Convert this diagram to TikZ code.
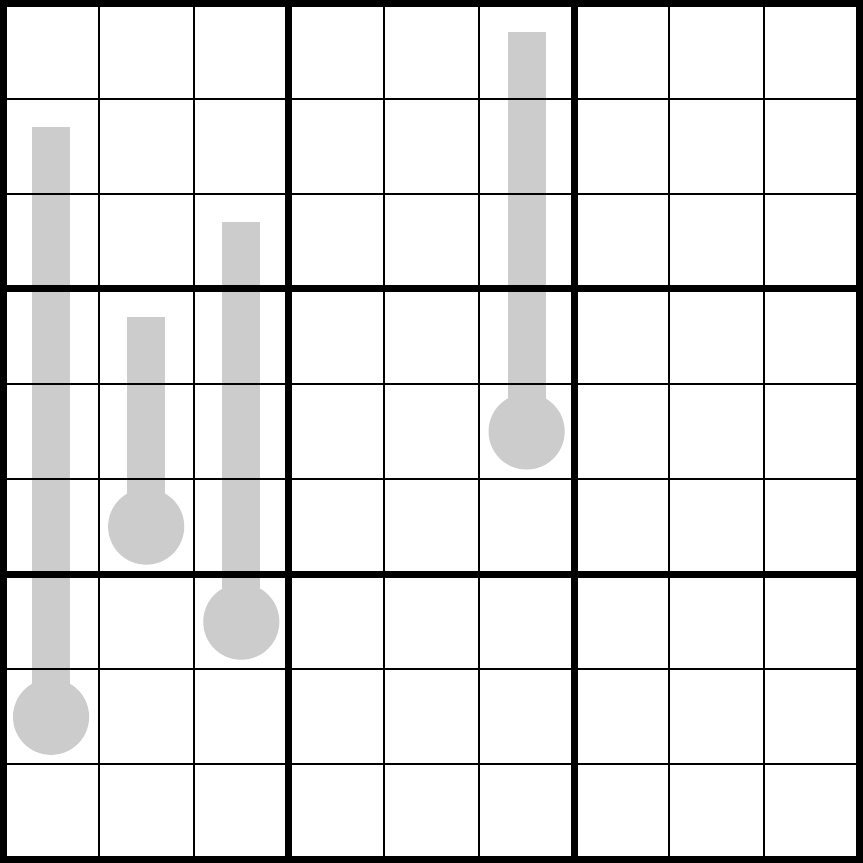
\documentclass[tikz,border=0pt]{standalone}
\definecolor{thermo}{HTML}{CCCCCC}
\tikzset{
  thin grid/.style={line width=0.6pt, black},
  thick grid/.style={line width=2.1pt, black, line cap=rect},
  thermo fill/.style={fill=thermo, draw=none}
}
% \thermometer{col}{bulb row}{top row}  (rows counted from top, 1-based)
\newcommand{\thermometer}[3]{%
  \fill[thermo fill] ({#1-0.5-0.2},{9-#3+0.5+0.2}) rectangle ({#1-0.5+0.2},{9-#2+0.5});
  \fill[thermo fill] ({#1-0.5},{9-#2+0.5}) circle (0.4);
}
\begin{document}
\begin{tikzpicture}[x=1cm,y=1cm]
\useasboundingbox (-0.0368,-0.0368) rectangle (9.0368,9.0368);
\fill[white] (-0.0368,-0.0368) rectangle (9.0368,9.0368);
% thermometers
\thermometer{1}{8}{2}
\thermometer{2}{6}{4}
\thermometer{3}{7}{3}
\thermometer{6}{5}{1}
% thin grid
\foreach \i in {1,2,4,5,7,8} {
  \draw[thin grid] (\i,0) -- (\i,9);
  \draw[thin grid] (0,\i) -- (9,\i);
}
% thick grid
\foreach \i in {3,6} {
  \draw[thick grid] (\i,0) -- (\i,9);
  \draw[thick grid] (0,\i) -- (9,\i);
}
\draw[thick grid] (0,0) rectangle (9,9);
\end{tikzpicture}
\end{document}
